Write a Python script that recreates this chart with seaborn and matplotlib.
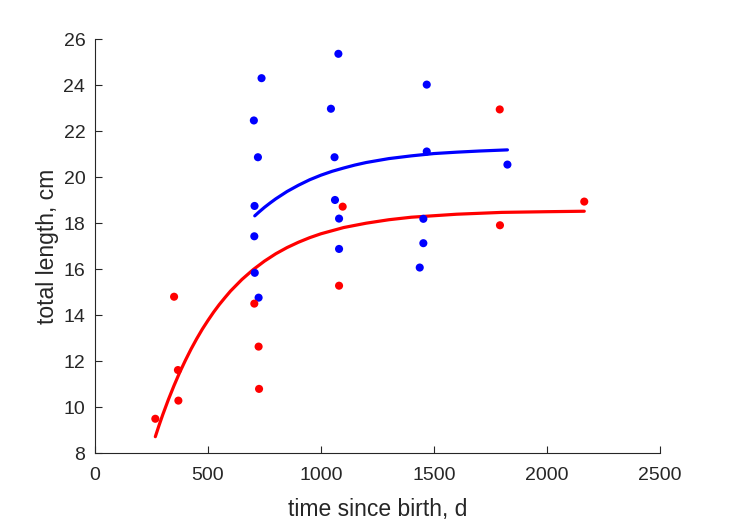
import numpy as np
import pandas as pd
import matplotlib
matplotlib.use("Agg")
import matplotlib.pyplot as plt
import seaborn as sns

blue_t = [1077, 737, 1044, 703, 721, 1060, 706, 1062, 1080, 705, 1080, 707, 724,
          1468, 1468, 1453, 1453, 1437, 1825]
blue_L = [25.37, 24.31, 22.98, 22.47, 20.87, 20.87, 18.75, 19.01, 18.20, 17.43, 16.88, 15.84, 14.76,
          24.03, 21.12, 18.19, 17.13, 16.07, 20.55]
red_t = [1096, 705, 724, 726, 1080, 350, 367, 369, 267, 1791, 2165, 1792]
red_L = [18.72, 14.50, 12.63, 10.79, 15.28, 14.80, 11.61, 10.28, 9.49, 22.95, 18.94, 17.91]

# fitted growth curves
blue_fit_t = [707, 725, 750, 775, 800, 850, 900, 950, 1000, 1050, 1100, 1150, 1200,
              1300, 1400, 1500, 1600, 1700, 1825]
blue_fit_L = [18.32, 18.48, 18.69, 18.88, 19.06, 19.38, 19.65, 19.89, 20.09, 20.26, 20.40, 20.53, 20.64,
              20.81, 20.93, 21.03, 21.09, 21.14, 21.19]
red_fit_t = [267, 283, 300, 325, 350, 375, 400, 425, 450, 475, 500, 525, 550, 575, 600, 650,
             700, 750, 800, 850, 900, 950, 1000, 1100, 1200, 1300, 1400, 1600, 1800, 2000, 2165]
red_fit_L = [8.71, 9.19, 9.67, 10.33, 10.94, 11.51, 12.03, 12.52, 12.97, 13.39, 13.77, 14.13, 14.46,
             14.76, 15.05, 15.55, 15.98, 16.35, 16.67, 16.94, 17.17, 17.37, 17.54, 17.81, 18.00,
             18.15, 18.26, 18.39, 18.47, 18.50, 18.52]

obs = pd.concat([
    pd.DataFrame({"t": blue_t, "L": blue_L, "grp": "blue"}),
    pd.DataFrame({"t": red_t, "L": red_L, "grp": "red"}),
])
fit = pd.concat([
    pd.DataFrame({"t": blue_fit_t, "L": blue_fit_L, "grp": "blue"}),
    pd.DataFrame({"t": red_fit_t, "L": red_fit_L, "grp": "red"}),
])
pal = {"blue": "#0000ff", "red": "#ff0000"}

sns.set_style("ticks")
plt.rcParams['font.family'] = ['Liberation Sans', 'DejaVu Sans']
dark = "#262626"

fig = plt.figure(figsize=(7.29, 5.21), dpi=100)
ax = fig.add_axes([0.1303, 0.1305, 0.775, 0.794])

sns.lineplot(data=fit, x="t", y="L", hue="grp", palette=pal, linewidth=2.3,
             legend=False, ax=ax, zorder=2)
sns.scatterplot(data=obs, x="t", y="L", hue="grp", palette=pal, s=34,
                edgecolor="none", legend=False, ax=ax, zorder=3)

ax.set_xlim(0, 2500)
ax.set_ylim(8, 26)
ax.set_xticks(np.arange(0, 2501, 500))
ax.set_yticks(np.arange(8, 27, 2))
ax.tick_params(direction="in", length=5, width=0.8, colors=dark, labelsize=14, pad=7)
ax.tick_params(axis="x", pad=10)
for s in ["left", "bottom"]:
    ax.spines[s].set_color(dark)
    ax.spines[s].set_linewidth(0.8)
sns.despine(ax=ax)
ax.set_xlabel("time since birth, d", fontsize=16.5, color=dark, labelpad=10)
ax.set_ylabel("total length, cm", fontsize=16.5, color=dark, labelpad=3)

fig.savefig("out.png", dpi=100)
